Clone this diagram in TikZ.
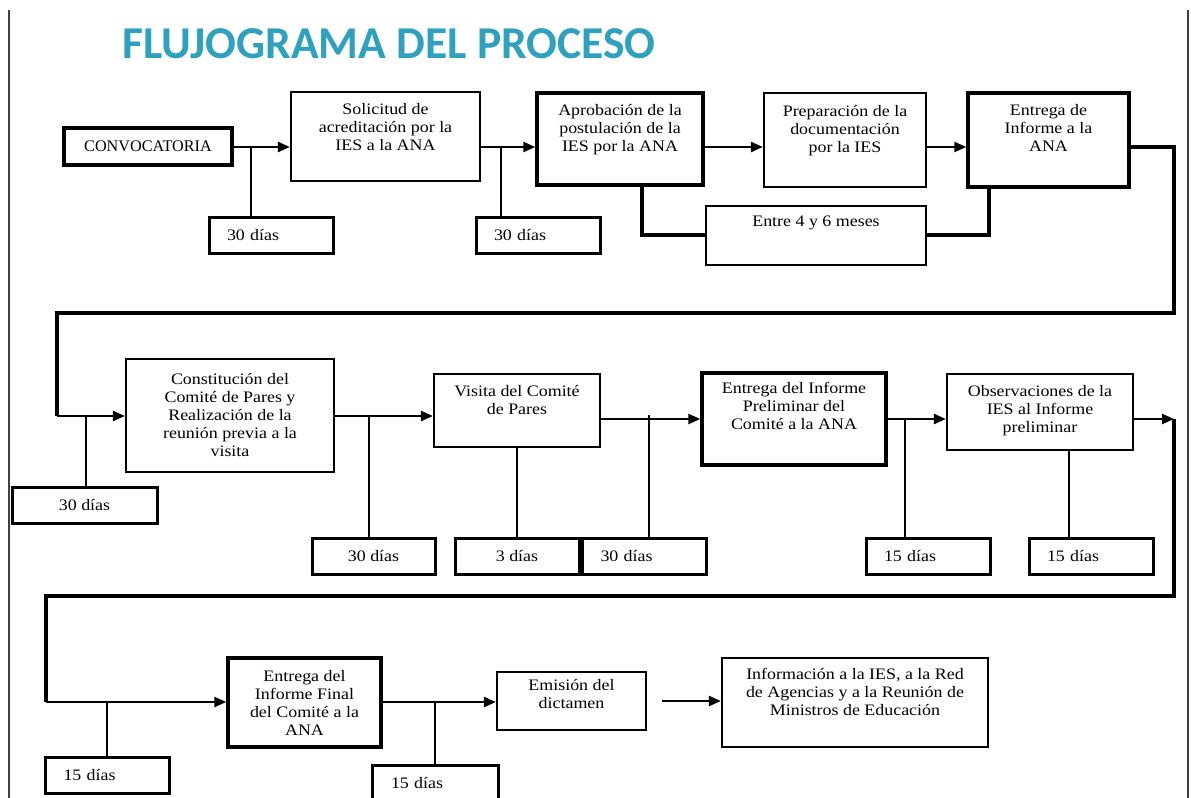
\documentclass[tikz,border=0pt]{standalone}
\usepackage{fontspec}
\setmainfont{Liberation Serif}[FakeStretch=1.12]
\newfontfamily\plainserif{Liberation Serif}
\newfontfamily\titlefont{Carlito}
\usepackage{tikz}
\usetikzlibrary{arrows.meta}
\usetikzlibrary{positioning}
\definecolor{titleblue}{RGB}{46,160,192}
\tikzset{box/.style = {draw, line width = 1.1pt, inner sep = 0, align = center, font = \fontsize{8}{9}\selectfont}}
\tikzset{thickbox/.style = {box, line width = 1.7pt}}
\tikzset{dias/.style = {box, line width = 1.5pt, minimum width = 62pt, minimum height = 18pt}}
\tikzset{diasl/.style = {dias, text width = 44pt, align = left}}
\tikzset{txt/.style = {align = center, inner sep = 0, font = \fontsize{8}{9}\selectfont}}
\tikzset{conn/.style = {line width = 1.2pt}}
\tikzset{arr/.style = {conn, -{Triangle[length = 6pt, width = 5pt]}}}
\tikzset{ret/.style = {line width = 1.7pt}}

\begin{document}
\begin{tikzpicture}[x = 0.5pt, y = -0.5pt]
  \clip (0, 0) rectangle (1191, 798);
  \fill [white] (0, 0) rectangle (1191, 798);
  % page border
  \draw [line width = 0.8pt, black!75] (9, 10) -- (9, 798);
  \draw [line width = 0.8pt, black!75] (1188, 10) -- (1188, 798);
  \node [font = \titlefont\bfseries\fontsize{22.8}{26}\selectfont, text = titleblue] (title) at (389, 44) {FLUJOGRAMA DEL PROCESO};

  % first row
  \node [thickbox, minimum width = 84pt, minimum height = 18.5pt, font = \plainserif\fontsize{8.1}{9}\selectfont] (conv) at (148, 146.5) {CONVOCATORIA};
  \node [diasl] (d1) at (271, 235) {30 días};
  \node [box, minimum width = 94.5pt, minimum height = 44.5pt] (sol) at (385.5, 136.5) {};
  \node [txt, below = 6pt of sol.north] (soltxt) {Solicitud de\\acreditación por la\\IES a la ANA};
  \node [diasl] (d2) at (538, 235) {30 días};
  \node [thickbox, minimum width = 83pt, minimum height = 46pt] (apr) at (620, 139) {};
  \node [txt, below = 6.5pt of apr.north] (aprtxt) {Aprobación de la\\postulación de la\\IES por la ANA};
  \node [box, minimum width = 81pt, minimum height = 47pt] (prep) at (845, 140) {};
  \node [txt, below = 6.5pt of prep.north] (preptxt) {Preparación de la\\documentación\\por la IES};
  \node [thickbox, minimum width = 80.5pt, minimum height = 47pt] (ent1) at (1048.5, 140) {};
  \node [txt, below = 6.5pt of ent1.north] (ent1txt) {Entrega de\\Informe a la\\ANA};
  \node [box, minimum width = 110pt, minimum height = 29.5pt] (entre) at (816, 235.5) {};
  \node [txt, below = 5.5pt of entre.north] (entretxt) {Entre 4 y 6 meses};

  \coordinate (j1) at (251, 147);
  \coordinate (j2) at (501, 147);
  \draw [arr] (conv.east |- j1) -- (sol.west |- j1);
  \draw [conn] (j1) -- (j1 |- d1.north);
  \draw [arr] (sol.east |- j2) -- (apr.west |- j2);
  \draw [conn] (j2) -- (j2 |- d2.north);
  \draw [arr] (apr.east |- j2) -- (prep.west |- j2);
  \draw [arr] (prep.east |- j2) -- (ent1.west |- j2);
  \coordinate (ja) at (642, 235);
  \coordinate (jb) at (989, 235);
  \draw [ret] (apr.south -| ja) -- (ja) -- (entre.west |- ja);
  \draw [ret] (entre.east |- jb) -- (jb) -- (ent1.south -| jb);

  % second row
  \node [box, minimum width = 104pt, minimum height = 56.5pt] (const) at (230, 415.5) {Constitución del\\Comité de Pares y\\Realización de la\\reunión previa a la\\visita};
  \node [dias, minimum width = 72.5pt] (d3) at (84.5, 505) {30 días};
  \node [dias, minimum width = 61.5pt] (d4) at (373.5, 556) {30 días};
  \node [box, minimum width = 83pt, minimum height = 36.5pt] (vis) at (517, 410.5) {};
  \node [txt, below = 6pt of vis.north] (vistxt) {Visita del Comité\\de Pares};
  \node [dias] (d5) at (517, 556) {3 días};
  \node [diasl] (d6) at (644.5, 556) {30 días};
  \node [thickbox, minimum width = 92pt, minimum height = 46pt] (prel) at (794, 419) {};
  \node [txt, below = 5.5pt of prel.north] (preltxt) {Entrega del Informe\\Preliminar del\\Comité a la ANA};
  \node [diasl] (d7) at (928, 556) {15 días};
  \node [box, minimum width = 93pt, minimum height = 38pt] (obs) at (1040, 412) {};
  \node [txt, below = 6pt of obs.north] (obstxt) {Observaciones de la\\IES al Informe\\preliminar};
  \node [diasl] (d8) at (1091, 556) {15 días};

  \coordinate (r1) at (1174, 313);
  \coordinate (r2) at (57, 313);
  \coordinate (j3) at (86, 416);
  \draw [ret] (ent1.east |- j1) -| (r1) -- (r2) -- (r2 |- j3);
  \draw [arr] (r2 |- j3) -- (const.west |- j3);
  \draw [conn] (j3) -- (j3 |- d3.north);
  \coordinate (j4) at (369, 416);
  \draw [arr] (const.east |- j4) -- (vis.west |- j4);
  \draw [conn] (j4) -- (j4 |- d4.north);
  \draw [conn] (vis.south) -- (d5.north);
  \coordinate (j6) at (649, 419);
  \draw [arr] (vis.east |- j6) -- (prel.west |- j6);
  \draw [conn] ([yshift = 2pt]j6) -- (j6 |- d6.north);
  \coordinate (j7) at (905, 419);
  \draw [arr] (prel.east |- j7) -- (obs.west |- j7);
  \draw [conn] (j7) -- (j7 |- d7.north);
  \coordinate (j8) at (1069, 450);
  \draw [conn] (obs.south -| j8) -- (d8.north -| j8);

  % third row
  \node [thickbox, minimum width = 76.5pt, minimum height = 44.5pt] (fin) at (304.5, 702.5) {Entrega del\\Informe Final\\del Comité a la\\ANA};
  \node [diasl] (d9) at (107.5, 775) {15 días};
  \node [diasl, minimum width = 63pt] (d10) at (435, 783) {15 días};
  \node [box, minimum width = 74.5pt, minimum height = 29pt] (emis) at (571.5, 701) {};
  \node [txt, below = 4pt of emis.north] (emistxt) {Emisión del\\dictamen};
  \node [box, minimum width = 133pt, minimum height = 44.5pt] (info) at (855, 702.5) {};
  \node [txt, below = 5.5pt of info.north] (infotxt) {Información a la IES, a la Red\\de Agencias y a la Reunión de\\Ministros de Educación};

  \coordinate (r3) at (1174, 419);
  \coordinate (r4) at (1174, 596);
  \coordinate (r5) at (46, 596);
  \coordinate (j9) at (107, 702);
  \coordinate (j10) at (435, 702);
  \draw [arr] (obs.east |- r3) -- (r3);
  \draw [ret] (r3) -- (r4) -- (r5) -- (r5 |- j9);
  \draw [arr] (r5 |- j9) -- (fin.west |- j9);
  \draw [conn] (j9) -- (j9 |- d9.north);
  \draw [arr] (fin.east |- j10) -- (emis.west |- j10);
  \draw [conn] (j10) -- (j10 |- d10.north);
  \draw [arr] ([xshift = 7.5pt]emis.east) -- (info.west |- emis.east);
\end{tikzpicture}
\end{document}
